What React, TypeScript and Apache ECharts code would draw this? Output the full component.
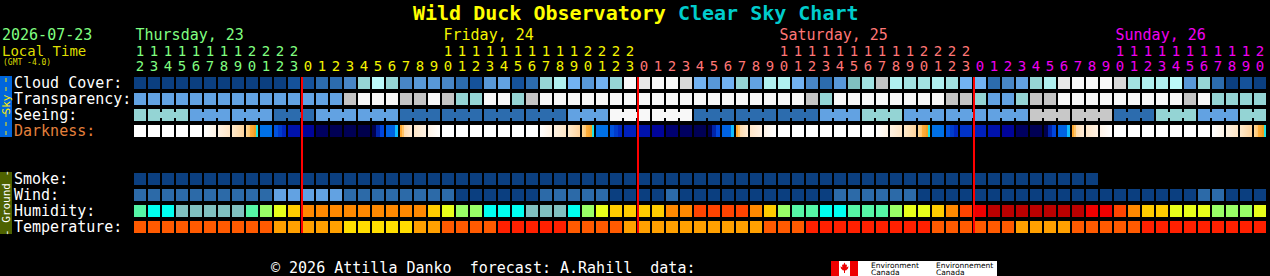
import React, { useEffect, useRef } from "react";
import * as echarts from "echarts";

// ---------- categories ----------
const START_HOUR = 12;
const N_COLS = 81;
const HOURS: number[] = [];
for (let i = 0; i < N_COLS; i++) HOURS.push((START_HOUR + i) % 24);

const DAY_NAMES = ["Thursday, 23", "Friday, 24", "Saturday, 25", "Sunday, 26"];
const DAY_COLORS = ["#80ff80", "#f4f400", "#ff7676", "#f000f0"];

const ROW_LABELS = ["Cloud Cover:", "Transparency:", "Seeing:", "Darkness:", "", "", "Smoke:", "Wind:", "Humidity:", "Temperature:"];
const ROW_LABEL_COLORS = ["#ffffff", "#ffffff", "#ffffff", "#e4803c", "#ffffff", "#ffffff", "#ffffff", "#ffffff", "#ffffff", "#ffffff"];

// ---------- series values ----------
// cloud cover level 0 (clear) .. 15 (overcast)
const CLOUD = [
  0, 0, 0, 0, 0, 0, 0, 0, 0, 0, 0, 1,
  1, 2, 2, 3, 8, 11, 8, 3, 4, 4, 3, 2, 1, 4, 5, 1, 2, 8, 10, 6, 4, 6, 8, 15,
  14, 15, 15, 13, 6, 4, 6, 8, 5, 10, 10, 6, 3, 2, 4, 7, 9, 12, 10, 9, 9, 10, 9, 6,
  6, 2, 3, 5, 8, 10, 14, 15, 15, 15, 13, 9, 10, 10, 11, 4, 8, 2, 0, 1, 0,
];
// transparency level 0 (transparent) .. 5 (too cloudy)
const TRANSP = [
  2, 2, 2, 2, 2, 2, 2, 2, 2, 2, 2, 2,
  2, 2, 2, 4, 5, 5, 5, 4, 4, 5, 4, 3, 3, 5, 5, 3, 4, 5, 5, 5, 5, 5, 5, 5,
  5, 5, 5, 5, 5, 5, 5, 5, 5, 5, 5, 5, 4, 3, 5, 5, 5, 5, 5, 5, 5, 5, 4, 4,
  3, 2, 2, 3, 4, 4, 5, 5, 5, 5, 5, 5, 5, 5, 5, 4, 5, 3, 3, 3, 3,
];
// seeing level 0 (excellent) .. 5 (bad)
const SEEING = [
  3, 3, 3, 3, 2, 2, 2, 2, 2, 2, 1, 1,
  1, 2, 2, 2, 2, 2, 2, 1, 1, 1, 1, 1, 1, 1, 1, 1, 1, 1, 1, 2, 2, 2, 5, 5,
  5, 5, 5, 5, 1, 1, 1, 1, 1, 1, 1, 1, 1, 2, 2, 2, 3, 3, 3, 2, 2, 2, 2, 2,
  2, 2, 2, 2, 4, 4, 4, 4, 4, 4, 1, 1, 1, 3, 3, 3, 2, 2, 2, 3, 3,
];
// darkness state per hour
const DARKNESS = [
  "day", "day", "day", "day", "day", "dusk1", "dusk2", "dusk3", "dusk4", "dusk5", "dusk6", "nC",
  "nD", "nF", "nG", "nG", "nH", "dawn1", "dawn2", "dawn3", "dawn4", "dawn5", "day", "day", "day", "day", "day", "day", "day", "dusk1", "dusk2", "dusk3", "dusk4", "dusk5", "dusk6", "nB",
  "nC", "nD", "nE", "nF", "nG", "dawn1", "dawn2", "dawn3", "dawn4", "dawn5", "day", "day", "day", "day", "day", "day", "day", "dusk1", "dusk2", "dusk3", "dusk4", "dusk5", "dusk6", "nA",
  "nB", "nC", "nD", "nF", "nG", "dawn1", "dawn2", "dawn3", "dawn4", "dawn5", "day", "day", "day", "day", "day", "day", "day", "dusk1", "dusk2", "dusk3", "dusk4",
];
// smoke level (forecast ends early)
const SMOKE = [
  0, 0, 0, 0, 0, 0, 0, 0, 0, 0, 0, 0,
  0, 0, 0, 0, 0, 0, 0, 0, 0, 0, 0, 0, 0, 0, 0, 0, 0, 0, 0, 0, 0, 0, 0, 0,
  0, 0, 0, 0, 0, 0, 0, 0, 0, 0, 0, 0, 0, 0, 0, 0, 0, 0, 0, 0, 0, 0, 0, 0,
  0, 0, 0, 0, 0, 0, 0, 0, 0,
];
// wind level 0 (calm) .. 2
const WIND = [
  1, 1, 1, 1, 1, 1, 1, 1, 1, 1, 2, 2,
  2, 2, 2, 1, 1, 1, 1, 1, 1, 1, 1, 0, 0, 0, 0, 0, 0, 1, 1, 1, 1, 1, 0, 0,
  0, 0, 1, 0, 0, 0, 0, 0, 0, 0, 0, 0, 0, 0, 1, 1, 1, 1, 1, 1, 0, 0, 0, 0,
  0, 0, 0, 0, 0, 0, 0, 0, 0, 0, 0, 0, 0, 0, 0, 0, 1, 1, 0, 0, 0,
];
// humidity level 0 (dry) .. 9 (humid)
const HUMIDITY = [
  2, 1, 1, 0, 0, 0, 0, 0, 2, 3, 4, 5,
  6, 6, 6, 6, 6, 6, 6, 6, 6, 5, 4, 3, 3, 1, 1, 1, 0, 0, 0, 1, 3, 4, 5, 5,
  5, 5, 6, 6, 7, 7, 7, 7, 6, 5, 3, 2, 2, 1, 1, 2, 2, 2, 3, 4, 4, 5, 6, 7,
  8, 9, 9, 9, 9, 9, 9, 9, 8, 8, 7, 6, 5, 5, 4, 4, 4, 3, 3, 3, 4,
];
// temperature level 0 (cool) .. 3 (warm)
const TEMP = [
  2, 2, 2, 2, 2, 2, 2, 2, 2, 2, 1, 1,
  1, 1, 1, 0, 0, 0, 0, 0, 1, 1, 2, 2, 2, 2, 3, 3, 3, 3, 3, 2, 2, 2, 2, 1,
  1, 1, 1, 1, 1, 1, 1, 1, 1, 2, 2, 2, 3, 3, 3, 3, 3, 3, 3, 3, 3, 2, 2, 2,
  2, 2, 2, 1, 1, 1, 1, 2, 2, 2, 2, 2, 3, 3, 3, 3, 3, 3, 3, 3, 3,
];

// ---------- palettes ----------
const CLOUD_COLORS = ["#0b3f80", "#15529a", "#2c6cae", "#4886c6", "#5898d8", "#62a2e2", "#72b2f2", "#80c0c0", "#96d6d6", "#a2e2e2", "#b0f0f0", "#bcfafa", "#c2c2c2", "#d8d8d8", "#e8e8e8", "#f8f8f8"];
const TRANSP_COLORS = ["#0b3f80", "#2c6cae", "#62a2e2", "#94d4d4", "#c4c4c4", "#f8f8f8"];
const SEEING_COLORS = ["#0b3f80", "#2c6cae", "#62a2e2", "#94d4d4", "#c8c8c8", "#f8f8f8"];
const SMOKE_COLORS = ["#0b3f80"];
const WIND_COLORS = ["#0b3f80", "#2c6aa8", "#62a2e2"];
const HUMIDITY_COLORS = ["#80c0c0", "#00fff0", "#55f5a5", "#99ff66", "#e8ff1a", "#ffcc00", "#ff8800", "#ff4400", "#ee0000", "#bb0000"];
const TEMP_COLORS = ["#ffdd00", "#ffa000", "#ff5a00", "#ff2000"];

type Stop = [number, string];
const DARK_STOPS: Record<string, Stop[]> = {
  day: [[0, "#ffffff"], [1, "#ffffff"]],
  dusk1: [[0, "#ffffff"], [1, "#fff3e4"]],
  dusk2: [[0, "#fff2e2"], [1, "#ffe6c6"]],
  dusk3: [[0, "#ffeacc"], [1, "#ffd49c"]],
  dusk4: [[0, "#ffd898"], [0.35, "#ffc46c"], [0.35, "#ffb03c"], [0.68, "#f6a230"], [0.68, "#f0a020"], [0.8, "#f0a020"], [0.8, "#1ee4e4"], [1, "#1ee4e4"]],
  dusk5: [[0, "#0070e6"], [1, "#0070e6"]],
  dusk6: [[0, "#0052de"], [0.33, "#0052de"], [0.33, "#003ccc"], [0.66, "#003ccc"], [0.66, "#0026c0"], [1, "#0026c0"]],
  nA: [[0, "#0032c6"], [1, "#0032c6"]],
  nB: [[0, "#0020bc"], [1, "#0020bc"]],
  nC: [[0, "#0012ac"], [1, "#0012ac"]],
  nD: [[0, "#00049a"], [1, "#00049a"]],
  nE: [[0, "#000070"], [1, "#000070"]],
  nF: [[0, "#000060"], [1, "#000060"]],
  nG: [[0, "#000054"], [1, "#000054"]],
  nH: [[0, "#00004c"], [1, "#00004c"]],
  dawn1: [[0, "#000050"], [0.33, "#000050"], [0.33, "#0024aa"], [0.66, "#0024aa"], [0.66, "#0046dc"], [1, "#0046dc"]],
  dawn2: [[0, "#0062e2"], [0.75, "#0062e2"], [0.75, "#10bcff"], [1, "#10bcff"]],
  dawn3: [[0, "#ffa830"], [0.18, "#ffa830"], [0.18, "#ffc468"], [0.36, "#ffc468"], [0.36, "#ffdcb0"], [1, "#ffecd8"]],
  dawn4: [[0, "#ffe6c8"], [1, "#fff2e4"]],
  dawn5: [[0, "#fff4e8"], [1, "#ffffff"]],
};

// ---------- layout ----------
const W = 1270;
const H = 276;
const GRID_LEFT = 133;
const GRID_TOP = 75;
const CELL_W = 14;
const ROW_H = 16;
const FONT = '"DejaVu Sans Mono", monospace';

const dayIndexOfCol: number[] = [];
{
  let d = 0;
  HOURS.forEach((h, i) => {
    if (i > 0 && h === 0) d++;
    dayIndexOfCol.push(d);
  });
}
const MIDNIGHT_COLS = HOURS.map((h, i) => (h === 0 ? i : -1)).filter((i) => i >= 0);
const DAY_LABEL_COLS = DAY_NAMES.map((_, d) => dayIndexOfCol.findIndex((dd, i) => dd === d && HOURS[i] >= 10));

function cellSeries(row: number, fills: any[], connect?: boolean[]) {
  const data: number[][] = [];
  fills.forEach((f, i) => {
    if (f != null) data.push([i, row]);
  });
  return {
    type: "custom",
    xAxisIndex: 0,
    yAxisIndex: 0,
    silent: true,
    data,
    renderItem: (_p: any, api: any) => {
      const i = api.value(0) as number;
      const pt = api.coord([i, row]);
      const sz = api.size([1, 1]);
      const w = sz[0] - 2;
      const h = sz[1] - 4;
      const fill = fills[i];
      const children: any[] = [
        { type: "rect", shape: { x: pt[0] - w / 2, y: pt[1] - h / 2, width: w, height: h }, style: { fill } },
      ];
      if (connect && connect[i]) {
        children.push({ type: "rect", shape: { x: pt[0] + w / 2 - 0.5, y: pt[1] - 3, width: sz[0] - w + 1, height: 6 }, style: { fill } });
      }
      return { type: "group", children };
    },
  };
}

function gradient(stops: Stop[]) {
  return new echarts.graphic.LinearGradient(0, 0, 1, 0, stops.map(([offset, color]) => ({ offset, color })));
}

export default function App() {
  const ref = useRef<HTMLDivElement>(null);
  useEffect(() => {
    document.body.style.margin = "0";
    document.body.style.background = "#000";
    const chart = echarts.init(ref.current!, null, { renderer: "svg" });

    const seeingGroup = (h: number) => Math.floor(((h - 1 + 24) % 24) / 3);
    const seeingConnect = HOURS.map((h, i) => i < N_COLS - 1 && seeingGroup(h) === seeingGroup(HOURS[i + 1]) && SEEING[i] === SEEING[i + 1]);

    const series: any[] = [
      cellSeries(0, CLOUD.map((v) => CLOUD_COLORS[v])),
      cellSeries(1, TRANSP.map((v) => TRANSP_COLORS[v])),
      cellSeries(2, SEEING.map((v) => SEEING_COLORS[v]), seeingConnect),
      cellSeries(3, DARKNESS.map((k) => gradient(DARK_STOPS[k]))),
      cellSeries(6, SMOKE.map((v) => SMOKE_COLORS[v])),
      cellSeries(7, WIND.map((v) => WIND_COLORS[v])),
      cellSeries(8, HUMIDITY.map((v) => HUMIDITY_COLORS[v])),
      cellSeries(9, TEMP.map((v) => TEMP_COLORS[v])),
      {
        type: "custom",
        silent: true,
        z: 10,
        data: MIDNIGHT_COLS.map((c) => [c, 0]),
        renderItem: (_p: any, api: any) => {
          const c = api.value(0) as number;
          const top = api.coord([c, 0]);
          const bot = api.coord([c, ROW_LABELS.length - 1]);
          const sz = api.size([1, 1]);
          const x = top[0] - sz[0] / 2;
          const y0 = top[1] - sz[1] / 2 + 2;
          const y1 = bot[1] + sz[1] / 2 - 2;
          return { type: "rect", shape: { x, y: y0, width: 2, height: y1 - y0 }, style: { fill: "#ff0000" } };
        },
      },
    ];

    const hourAxisBase = {
      type: "category",
      data: HOURS.map(String),
      position: "top",
      axisLine: { show: false },
      axisTick: { show: false },
      splitLine: { show: false },
    };

    const txt = (text: string, x: number, y: number, fill: string, size = 15) => ({
      type: "text",
      x,
      y,
      style: { text, fill, font: `${size}px ${FONT}`, verticalAlign: "middle", lineHeight: size },
    });

    const logoFont = `7.5px "DejaVu Sans", sans-serif`;
    const graphic: any[] = [
      {
        type: "text",
        x: 413,
        y: 13,
        style: {
          text: "{a|Wild Duck Observatory} {b|Clear Sky Chart}",
          verticalAlign: "middle",
          rich: {
            a: { fill: "#ffff00", font: `bold 20px ${FONT}` },
            b: { fill: "#00cccc", font: `bold 20px ${FONT}` },
          },
          font: `bold 20px ${FONT}`,
        },
      },
      txt("2026-07-23", 2, 34.5, "#80ff80"),
      txt("Local Time", 2, 50.5, "#dede00", 14),
      txt("(GMT -4.0)", 3, 62.5, "#dede00", 8),
      ...DAY_NAMES.map((name, d) => txt(name, GRID_LEFT + DAY_LABEL_COLS[d] * CELL_W + CELL_W / 2 - 4.5, 34.5, DAY_COLORS[d])),
      // sky side bar
      { type: "rect", shape: { x: 0, y: 76, width: 12, height: 61 }, style: { fill: "#0066dd" } },
      { type: "line", shape: { x1: 6, y1: 78, x2: 6, y2: 96 }, style: { stroke: "#ffee00", lineWidth: 1, lineDash: [4, 5] } },
      { type: "line", shape: { x1: 6, y1: 113, x2: 6, y2: 136 }, style: { stroke: "#ffee00", lineWidth: 1, lineDash: [4, 5] } },
      { type: "text", x: 6, y: 104.5, rotation: Math.PI / 2, style: { text: "Sky", fill: "#ffee00", font: `11px ${FONT}`, align: "center", verticalAlign: "middle", lineHeight: 10 } },
      // ground side bar
      { type: "rect", shape: { x: 0, y: 172, width: 12, height: 62 }, style: { fill: "#4e6200" } },
      { type: "text", x: 6, y: 203, rotation: Math.PI / 2, style: { text: "- Ground -", fill: "#ffffff", font: `11px ${FONT}`, align: "center", verticalAlign: "middle", lineHeight: 10 } },
      // footer
      txt("\u00a9 2026 Attilla Danko  forecast: A.Rahill  data:", 271, 268, "#ffffff"),
      // logo
      { type: "rect", shape: { x: 831, y: 261, width: 166, height: 15 }, style: { fill: "#ffffff" } },
      { type: "rect", shape: { x: 831, y: 261, width: 8, height: 15 }, style: { fill: "#ee0000" } },
      { type: "rect", shape: { x: 850, y: 261, width: 8, height: 15 }, style: { fill: "#ee0000" } },
      {
        type: "polygon",
        shape: {
          points: [
            [844.5, 262.5], [845.8, 265], [847, 264.5], [846.6, 267.5], [848.5, 266.3], [848, 268.5], [846, 270.5], [845, 270.3], [845, 273], [844, 273], [844, 270.3], [843, 270.5], [841, 268.5], [840.5, 266.3], [842.4, 267.5], [842, 264.5], [843.2, 265],
          ],
        },
        style: { fill: "#ee0000" },
      },
      { type: "text", x: 871, y: 265, style: { text: "Environment", fill: "#000000", font: logoFont, verticalAlign: "middle", lineHeight: 6 } },
      { type: "text", x: 871, y: 272.5, style: { text: "Canada", fill: "#000000", font: logoFont, verticalAlign: "middle", lineHeight: 6 } },
      { type: "text", x: 936, y: 265, style: { text: "Environnement", fill: "#000000", font: logoFont, verticalAlign: "middle", lineHeight: 6 } },
      { type: "text", x: 936, y: 272.5, style: { text: "Canada", fill: "#000000", font: logoFont, verticalAlign: "middle", lineHeight: 6 } },
    ];

    const hourLabel = {
      interval: 0,
      margin: 2,
      fontFamily: FONT,
      fontSize: 14,
      lineHeight: 14,
      color: (_v: any, i: number) => DAY_COLORS[dayIndexOfCol[i]],
    };

    chart.setOption({
      animation: false,
      backgroundColor: "#000000",
      grid: { left: GRID_LEFT, top: GRID_TOP, width: CELL_W * N_COLS, height: ROW_H * ROW_LABELS.length, containLabel: false },
      xAxis: [
        {
          ...hourAxisBase,
          axisLabel: { ...hourLabel, formatter: (v: string) => String(Number(v) % 10) },
        },
        {
          ...hourAxisBase,
          offset: 15,
          axisLabel: { ...hourLabel, formatter: (v: string) => (Number(v) >= 10 ? String(Math.floor(Number(v) / 10)) : "") },
        },
      ],
      yAxis: {
        type: "category",
        inverse: true,
        data: ROW_LABELS,
        axisLine: { show: false },
        axisTick: { show: false },
        splitLine: { show: false },
        axisLabel: {
          interval: 0,
          align: "left",
          margin: GRID_LEFT - 14,
          fontFamily: FONT,
          fontSize: 15,
          lineHeight: 15,
          color: (_v: any, i: number) => ROW_LABEL_COLORS[i],
        },
      },
      series,
      graphic,
    });
    return () => chart.dispose();
  }, []);
  return <div ref={ref} style={{ position: "fixed", left: 0, top: 0, width: W, height: H, background: "#000" }} />;
}
